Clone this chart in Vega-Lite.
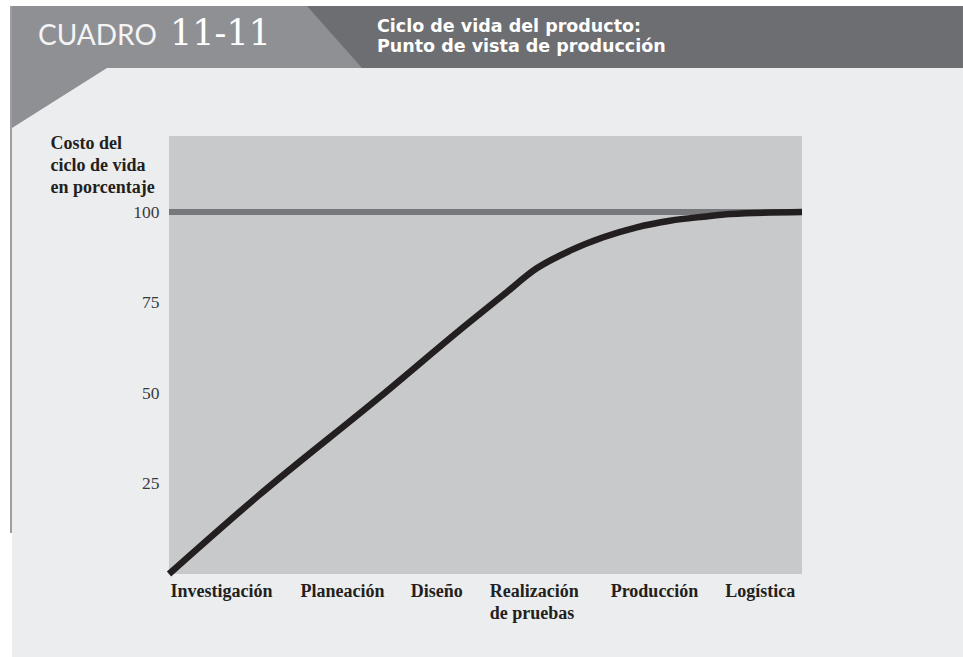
{
  "$schema": "https://vega.github.io/schema/vega-lite/v6.json",
  "width": 633,
  "height": 438,
  "autosize": {"type": "none"},
  "padding": {"left": 169, "top": 136, "right": 161, "bottom": 83},
  "background": "#ffffff",
  "config": {"view": {"stroke": null}},
  "layer": [
    {
      "data": {"values": [{}]},
      "mark": {"type": "rect", "color": "#ecedef"},
      "encoding": {
        "x": {"datum": -24.8, "type": "quantitative", "scale": {"domain": [0, 100], "nice": false, "zero": false}},
        "x2": {"datum": 125.43},
        "y": {"datum": 156.91, "type": "quantitative", "scale": {"domain": [0, 121], "nice": false, "zero": false}},
        "y2": {"datum": -22.93}
      }
    },
    {
      "data": {"values": [{}]},
      "mark": {"type": "rect", "color": "#c8c9cb"},
      "encoding": {
        "x": {"datum": 0, "type": "quantitative", "scale": {"domain": [0, 100], "nice": false, "zero": false}},
        "x2": {"datum": 100},
        "y": {"datum": 0, "type": "quantitative", "scale": {"domain": [0, 121], "nice": false, "zero": false}},
        "y2": {"datum": 121}
      }
    },
    {
      "data": {"values": [{}]},
      "mark": {"type": "rect", "color": "#6d6e72"},
      "encoding": {
        "x": {"datum": -24.8, "type": "quantitative", "scale": {"domain": [0, 100], "nice": false, "zero": false}},
        "x2": {"datum": 125.43},
        "y": {"datum": 156.91, "type": "quantitative", "scale": {"domain": [0, 121], "nice": false, "zero": false}},
        "y2": {"datum": 139.79}
      }
    },
    {
      "data": {"values": [{}]},
      "mark": {
        "type": "point",
        "shape": "M-1,-0.3486L0.6857,-0.3486L1,0.0057L-0.4571,0.0057L-1,0.3486Z",
        "filled": true,
        "size": 122500,
        "color": "#8f9094",
        "opacity": 1,
        "strokeWidth": 0
      },
      "encoding": {
        "x": {"datum": 2.84, "type": "quantitative", "scale": {"domain": [0, 100], "nice": false, "zero": false}},
        "y": {"datum": 140.06, "type": "quantitative", "scale": {"domain": [0, 121], "nice": false, "zero": false}}
      }
    },
    {
      "data": {"values": [{}]},
      "mark": {"type": "rule", "color": "#7d7e80", "strokeWidth": 1.5},
      "encoding": {
        "x": {"datum": -24.96, "type": "quantitative", "scale": {"domain": [0, 100], "nice": false, "zero": false}},
        "y": {"datum": 156.91, "type": "quantitative", "scale": {"domain": [0, 121], "nice": false, "zero": false}},
        "y2": {"datum": 11.33}
      }
    },
    {
      "data": {"values": [{}]},
      "mark": {"type": "rule", "color": "#77787b", "strokeWidth": 6},
      "encoding": {
        "y": {"datum": 100, "type": "quantitative", "scale": {"domain": [0, 121], "nice": false, "zero": false}}
      }
    },
    {
      "data": {
        "values": [
          {"avance": 0, "costo": 0},
          {"avance": 13.9, "costo": 21.3},
          {"avance": 33.3, "costo": 48.9},
          {"avance": 47.55, "costo": 69.7},
          {"avance": 52.81, "costo": 77.08},
          {"avance": 58.09, "costo": 84.45},
          {"avance": 63.35, "costo": 89.32},
          {"avance": 68.61, "costo": 93.02},
          {"avance": 73.89, "costo": 95.78},
          {"avance": 79.15, "costo": 97.6},
          {"avance": 84.41, "costo": 98.71},
          {"avance": 88.63, "costo": 99.45},
          {"avance": 100, "costo": 100}
        ]
      },
      "mark": {"type": "line", "color": "#231f20", "strokeWidth": 6.5, "interpolate": "monotone", "strokeCap": "butt"},
      "encoding": {
        "x": {
          "field": "avance",
          "type": "quantitative",
          "scale": {"domain": [0, 100], "nice": false, "zero": false},
          "axis": {
            "zindex": 2,
            "values": [0.16, 20.7, 38.1, 50.6, 69.7, 87.8],
            "labelExpr": "datum.value < 10 ? 'Investigación' : datum.value < 30 ? 'Planeación' : datum.value < 45 ? 'Diseño' : datum.value < 60 ? ['Realización', 'de pruebas'] : datum.value < 80 ? 'Producción' : 'Logística'",
            "labelAlign": "left",
            "labelBaseline": "top",
            "labelPadding": 8,
            "labelFont": "Liberation Serif",
            "labelFontWeight": "bold",
            "labelFontSize": 18,
            "labelColor": "#231f20",
            "labelLineHeight": 22,
            "labelFlush": false,
            "labelOverlap": false,
            "labelBound": false,
            "ticks": false,
            "domain": false,
            "grid": false,
            "title": null
          }
        },
        "y": {
          "field": "costo",
          "type": "quantitative",
          "scale": {"domain": [0, 121], "nice": false, "zero": false},
          "axis": {
            "zindex": 2,
            "values": [25, 50, 75, 100],
            "labelFont": "Liberation Serif",
            "labelFontSize": 17.5,
            "labelColor": "#3a3a3a",
            "labelPadding": 10,
            "ticks": false,
            "domain": false,
            "grid": false,
            "title": ["Costo del", "ciclo de vida", "en porcentaje"],
            "titleAngle": 0,
            "titleAlign": "left",
            "titleBaseline": "top",
            "titleX": -119,
            "titleY": -2,
            "titleFont": "Liberation Serif",
            "titleFontWeight": "bold",
            "titleFontSize": 18,
            "titleLineHeight": 22,
            "titleColor": "#231f20"
          }
        }
      }
    },
    {
      "data": {"values": [{}]},
      "mark": {"type": "text", "text": "CUADRO", "font": "Lato", "fontSize": 28, "color": "#f4f4f4", "align": "left", "baseline": "alphabetic"},
      "encoding": {
        "x": {"datum": -20.7, "type": "quantitative", "scale": {"domain": [0, 100], "nice": false, "zero": false}},
        "y": {"datum": 146.14, "type": "quantitative", "scale": {"domain": [0, 121], "nice": false, "zero": false}}
      }
    },
    {
      "data": {"values": [{}]},
      "mark": {"type": "text", "text": "11-11", "font": "DejaVu Serif", "fontSize": 35, "color": "#ffffff", "align": "left", "baseline": "alphabetic"},
      "encoding": {
        "x": {"datum": 0.16, "type": "quantitative", "scale": {"domain": [0, 100], "nice": false, "zero": false}},
        "y": {"datum": 146.14, "type": "quantitative", "scale": {"domain": [0, 121], "nice": false, "zero": false}}
      }
    },
    {
      "data": {"values": [{}]},
      "mark": {"type": "text", "text": ["Ciclo de vida del producto:", "Punto de vista de producción"], "font": "DejaVu Sans", "fontWeight": "bold", "fontSize": 17.5, "lineHeight": 20, "color": "#ffffff", "align": "left", "baseline": "alphabetic"},
      "encoding": {
        "x": {"datum": 32.86, "type": "quantitative", "scale": {"domain": [0, 100], "nice": false, "zero": false}},
        "y": {"datum": 149.7, "type": "quantitative", "scale": {"domain": [0, 121], "nice": false, "zero": false}}
      }
    }
  ]
}
